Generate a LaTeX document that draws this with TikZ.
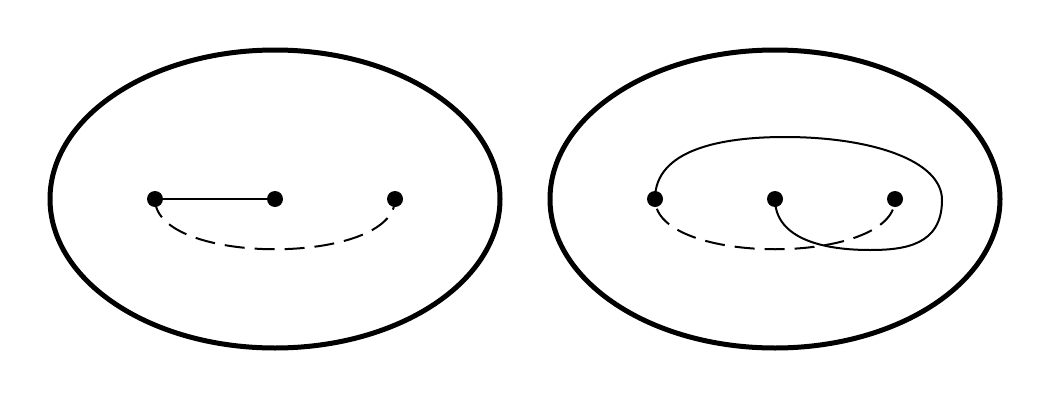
\documentclass[tikz,border=0pt]{standalone}
\usetikzlibrary{calc}
\begin{document}
\begin{tikzpicture}[x=0.75pt,y=-0.75pt,
  dot/.style={circle,fill=black,inner sep=0pt,minimum size=12pt},
  surface/.style={line width=3.75pt},
  solidarc/.style={line width=1.5pt},
  dasharc/.style={line width=1.5pt,dash pattern=on 15pt off 7.5pt}]
\useasboundingbox (0,0) rectangle (1050,400);
% surfaces
\draw[surface] (275,199) ellipse [x radius=168.75pt, y radius=111.75pt];
\draw[surface] (775,199) ellipse [x radius=168.75pt, y radius=111.75pt];
% points
\coordinate (a1) at (155,199);
\coordinate (a2) at (275,199);
\coordinate (a3) at (395,199);
\coordinate (b1) at (655,199);
\coordinate (b2) at (775,199);
\coordinate (b3) at (895,199);
% left arcs
\draw[solidarc] (a1) -- (a2);
\draw[dasharc] (a1) .. controls ($(a1)+(0,67)$) and ($(a3)+(0,67)$) .. (a3);
% right arcs
\draw[dasharc,dash phase=15pt] (b1) .. controls ($(b1)+(0,67)$) and ($(b3)+(0,67)$) .. (b3);
\draw[solidarc] (b1) .. controls (655,150) and (720,137) .. (785,137)
  .. controls (870,137) and (942,160) .. (942,200)
  .. controls (942,245) and (905,250) .. (870,250)
  .. controls (815,250) and (775,235) .. (b2);
% dots
\node[dot] (p1) at (a1) {};
\node[dot] (p2) at (a2) {};
\node[dot] (p3) at (a3) {};
\node[dot] (q1) at (b1) {};
\node[dot] (q2) at (b2) {};
\node[dot] (q3) at (b3) {};
\end{tikzpicture}
\end{document}
